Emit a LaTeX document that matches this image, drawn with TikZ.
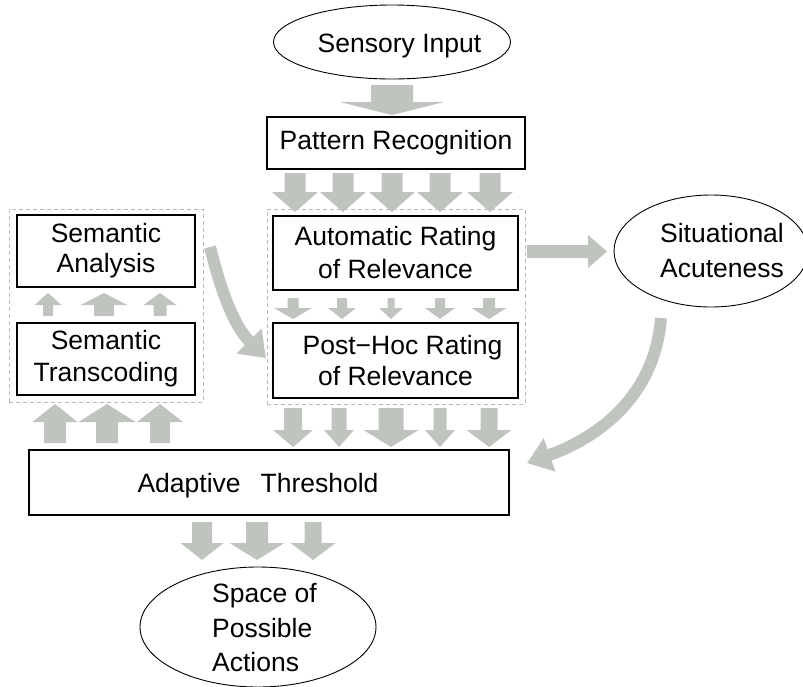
\documentclass[tikz,border=0pt]{standalone}
\usepackage{fontspec}
\setmainfont{Liberation Sans}
\usetikzlibrary{shapes.geometric,arrows.meta}
\definecolor{agray}{RGB}{192,196,190}
\definecolor{dgray}{RGB}{185,185,185}
% block arrow: centre x, shaft end y, head base y, tip y, shaft half width, head half width
\newcommand{\blockarr}[6]{\fill[agray] ({#1-#5},#2) -- ({#1+#5},#2) -- ({#1+#5},#3) -- ({#1+#6},#3) -- (#1,#4) -- ({#1-#6},#3) -- ({#1-#5},#3) -- cycle;}
\begin{document}
\begin{tikzpicture}[x=1pt,y=-1pt,
  font=\fontsize{26.5}{32}\selectfont,
  box/.style={draw=black, line width=1.3pt, fill=white, inner sep=0pt, align=center},
  oval/.style={draw=black, line width=0.9pt, ellipse, fill=white, inner sep=0pt},
  dashbox/.style={draw=dgray, line width=0.8pt, dash pattern=on 4pt off 3pt, inner sep=0pt},
  txt/.style={inner sep=0pt, align=center},
  curvearr/.style={draw=agray, line width=12pt, -{Triangle[width=34pt,length=24pt]}}]
\useasboundingbox (0,0) rectangle (803,686);

% dashed groups
\node[dashbox, minimum width=194pt, minimum height=193pt] (leftgroup) at (106,305.5) {};
\node[dashbox, minimum width=258pt, minimum height=195pt] (rightgroup) at (396,306.5) {};

% ellipses
\node[oval, minimum width=237pt, minimum height=74pt] (sensory) at (392,42) {};
\node[txt] (sensorytext) at (399.5,46) {Sensory Input};
\node[oval, minimum width=194pt, minimum height=112pt] (situ) at (711,251) {};
\node[txt, font=\fontsize{26.5}{35}\selectfont] (situtext) at (722,251) {Situational\\Acuteness};
\node[oval, minimum width=236pt, minimum height=120pt] (space) at (258,627) {};
\node[txt, align=left, anchor=west, font=\fontsize{26.5}{34.5}\selectfont] (spacetext) at (212,628) {Space of\\Possible\\Actions};

% boxes
\node[box, minimum width=258pt, minimum height=52pt] (pattern) at (396,143) {Pattern Recognition};
\node[box, minimum width=245pt, minimum height=74pt, font=\fontsize{26.5}{33}\selectfont] (auto) at (395.5,253) {Automatic Rating\\of Relevance};
\node[box, minimum width=245pt, minimum height=75pt, font=\fontsize{26.5}{31}\selectfont] (posthoc) at (395.5,360.5) {\hspace*{14pt}Post−Hoc Rating\\of Relevance};
\node[box, minimum width=178pt, minimum height=72pt, font=\fontsize{26.5}{30}\selectfont] (analysis) at (106,251) {Semantic\\Analysis};
\node[box, minimum width=178pt, minimum height=72pt] (transcoding) at (106,359) {Semantic\\Transcoding};
\node[box, minimum width=480pt, minimum height=65pt] (adaptive) at (269,482.5) {};
\node[txt] (adaptivetext) at (258,486) {Adaptive\hspace{20pt}Threshold};

% block arrows
\blockarr{392}{85}{102}{115}{21}{52}
% pattern -> automatic
\foreach \cx in {295,343,392,440,490} {\blockarr{\cx}{173}{192}{212}{10.5}{23}}
% automatic -> posthoc
\blockarr{293}{298}{308}{319}{5.5}{19}
\blockarr{342}{298}{308}{319}{5}{14}
\blockarr{391}{298}{308}{319}{3.5}{12}
\blockarr{440}{298}{308}{319}{5}{15}
\blockarr{489}{298}{308}{319}{6}{17.5}
% posthoc -> adaptive
\blockarr{293}{408}{430}{447}{9}{20}
\blockarr{339}{408}{430}{447}{7.5}{15}
\blockarr{391}{408}{430}{447}{12.5}{27.5}
\blockarr{440}{408}{430}{447}{6.5}{15}
\blockarr{489}{408}{430}{447}{8.5}{22.5}
% transcoding -> analysis
\blockarr{48}{316}{305}{293}{5}{13.5}
\blockarr{104}{316}{305}{293}{10}{23.5}
\blockarr{160}{316}{305}{293}{6.5}{16.5}
% adaptive -> transcoding
\blockarr{55}{443}{422}{404}{11}{22.5}
\blockarr{107}{443}{422}{404}{11}{28.5}
\blockarr{160}{443}{422}{404}{10}{23}
% adaptive -> space
\blockarr{202}{522}{543}{560}{10}{21.5}
\blockarr{257}{522}{543}{560}{11}{27.5}
\blockarr{313}{522}{543}{560}{8.5}{22.5}
% automatic -> situational
\fill[agray] (527,245) -- (588,245) -- (588,235) -- (607,251.5) -- (588,268) -- (588,258) -- (527,258) -- cycle;

% curved arrows
\coordinate (c1s) at (210,247);
\coordinate (c1e) at (266,358);
\draw[curvearr] (c1s) .. controls (222,295) and (235,327) .. (c1e);
\coordinate (c2s) at (661,318);
\coordinate (c2e) at (527,463);
\draw[curvearr] (c2s) .. controls (655,395) and (600,437) .. (c2e);
\end{tikzpicture}
\end{document}
